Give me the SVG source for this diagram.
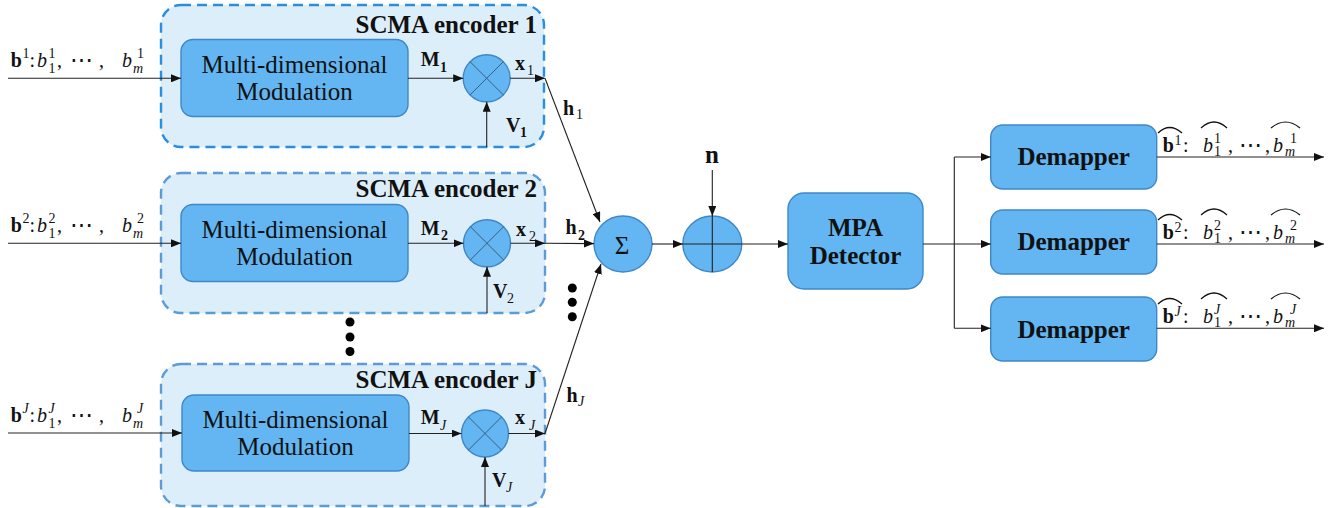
<svg xmlns="http://www.w3.org/2000/svg" width="1333" height="508" viewBox="0 0 1333 508">
  <defs>
    <marker id="ah" markerUnits="userSpaceOnUse" markerWidth="10" markerHeight="8" refX="10" refY="4" orient="auto" viewBox="0 0 10 8">
      <path d="M0,0 L10,4 L0,8 z" fill="#111"/>
    </marker>
    <style>
      .enc1 { fill:#ddeefb; stroke:#2a8ee0; stroke-width:2.4; stroke-dasharray:10 6; }
      .enc { fill:#ddeefb; stroke:#5d9bd6; stroke-width:2.4; stroke-dasharray:10 6; }
      .blk { fill:#63b6f1; stroke:#3f88c8; stroke-width:1.4; }
      .cross { stroke:#3b5f80; stroke-width:1; fill:none; }
      .ln { stroke:#222; stroke-width:1.1; fill:none; }
      .arr { marker-end:url(#ah); }
      .hat { stroke:#111; stroke-width:1.2; fill:none; }
      .title { font-family:'Liberation Serif','Times New Roman','DejaVu Serif',serif; font-weight:bold; font-size:25px; fill:#111; }
      .lbl { font-family:'Liberation Serif','Times New Roman','DejaVu Serif',serif; font-size:25px; fill:#111; }
      .m { font-family:'Liberation Serif','Times New Roman','DejaVu Serif',serif; font-size:20px; fill:#111; }
      .b { font-weight:bold; }
      .i { font-style:italic; }
      .s { font-size:14px; }
      .dots { font-family:'DejaVu Serif',serif; font-size:23px; }
    </style>
  </defs>

  <!-- encoder 1 -->
  <g id="encoder1">
    <rect class="enc1" x="161" y="5" width="383" height="142" rx="20"/>
    <text class="title" x="537" y="33" text-anchor="end">SCMA encoder 1</text>
    <rect class="blk" x="181" y="39.5" width="227" height="77" rx="12"/>
    <text class="lbl" x="294.5" y="73" text-anchor="middle">Multi-dimensional</text>
    <text class="lbl" x="294.5" y="100" text-anchor="middle">Modulation</text>
    <circle class="blk" cx="486.7" cy="78.3" r="23.5"/>
    <path class="cross" d="M470.1,61.7 L503.3,94.9 M470.1,94.9 L503.3,61.7"/>
    <text class="m b" x="420.7" y="66">M<tspan class="s" x="440" y="72">1</tspan></text>
    <text class="m b" x="515" y="70">x<tspan class="s" x="527" y="75" font-weight="normal">1</tspan></text>
    <text class="m b" x="506" y="132">V<tspan class="s" x="520" y="137">1</tspan></text>
  </g>

  <!-- encoder 2 -->
  <g id="encoder2">
    <rect class="enc" x="161" y="173" width="384" height="140" rx="20"/>
    <text class="title" x="537" y="197" text-anchor="end">SCMA encoder 2</text>
    <rect class="blk" x="181" y="204.5" width="227" height="77" rx="12"/>
    <text class="lbl" x="294.5" y="238" text-anchor="middle">Multi-dimensional</text>
    <text class="lbl" x="294.5" y="265" text-anchor="middle">Modulation</text>
    <circle class="blk" cx="487" cy="243.3" r="23.5"/>
    <path class="cross" d="M470.4,226.7 L503.6,259.9 M470.4,259.9 L503.6,226.7"/>
    <text class="m b" x="420.7" y="235">M<tspan class="s" x="441" y="240">2</tspan></text>
    <text class="m b" x="516" y="236">x<tspan class="s" x="529" y="241" font-weight="normal">2</tspan></text>
    <text class="m b" x="493" y="298">V<tspan class="s" x="507" y="303" font-weight="normal">2</tspan></text>
  </g>

  <!-- encoder J -->
  <g id="encoderJ">
    <rect class="enc" x="161" y="364" width="384" height="142" rx="20"/>
    <text class="title" x="537" y="388" text-anchor="end">SCMA encoder J</text>
    <rect class="blk" x="182" y="395" width="227" height="76" rx="12"/>
    <text class="lbl" x="295.5" y="428" text-anchor="middle">Multi-dimensional</text>
    <text class="lbl" x="295.5" y="455" text-anchor="middle">Modulation</text>
    <circle class="blk" cx="485" cy="433.5" r="23.5"/>
    <path class="cross" d="M468.4,416.9 L501.6,450.1 M468.4,450.1 L501.6,416.9"/>
    <text class="m b" x="420.7" y="424">M<tspan class="s i" x="440" y="430" font-weight="normal">J</tspan></text>
    <text class="m b" x="515" y="424">x<tspan class="s i" x="529" y="430" font-weight="normal">J</tspan></text>
    <text class="m b" x="492" y="487">V<tspan class="s i" x="506" y="492" font-weight="normal">J</tspan></text>
  </g>

  <!-- summation and noise adder -->
  <g id="sum">
    <ellipse class="blk" cx="623" cy="244" rx="29" ry="28"/>
    <text class="lbl" x="622" y="254" text-anchor="middle" font-size="26">Σ</text>
  </g>
  <g id="adder">
    <ellipse class="blk" cx="712.3" cy="244" rx="29.5" ry="28"/>
    <path class="ln" d="M682.8,244 L741.8,244 M712.3,216 L712.3,272"/>
    <text class="title" x="712" y="163" text-anchor="middle">n</text>
  </g>

  <!-- detector -->
  <g id="mpa">
    <rect class="blk" x="788" y="193" width="135" height="96" rx="16"/>
    <text class="title" x="855.5" y="236" text-anchor="middle">MPA</text>
    <text class="title" x="855.5" y="264" text-anchor="middle">Detector</text>
  </g>

  <!-- demappers -->
  <g id="demapper1">
    <rect class="blk" x="990.7" y="125" width="166" height="64" rx="12"/>
    <text class="title" x="1073.7" y="165" text-anchor="middle">Demapper</text>
  </g>
  <g id="demapper2">
    <rect class="blk" x="990.7" y="210" width="166" height="64" rx="12"/>
    <text class="title" x="1073.7" y="250" text-anchor="middle">Demapper</text>
  </g>
  <g id="demapperJ">
    <rect class="blk" x="990.7" y="297" width="166" height="64" rx="12"/>
    <text class="title" x="1073.7" y="338" text-anchor="middle">Demapper</text>
  </g>

  <!-- connectors -->
  <g id="connectors">
    <path class="ln arr" d="M8,78.3 L181,78.3"/>
    <path class="ln arr" d="M8,243.3 L181,243.3"/>
    <path class="ln arr" d="M8,433 L182,433"/>
    <path class="ln arr" d="M408,78.3 L463.2,78.3"/>
    <path class="ln arr" d="M408,243.3 L463.5,243.3"/>
    <path class="ln arr" d="M409,433.5 L461.5,433.5"/>
    <path class="ln arr" d="M486.7,147 L486.7,101.8"/>
    <path class="ln arr" d="M487,313 L487,266.8"/>
    <path class="ln arr" d="M485,506 L485,457"/>
    <path class="ln arr" d="M510.2,78.3 L545,78.3"/>
    <path class="ln arr" d="M510.5,243.3 L545,243.3"/>
    <path class="ln arr" d="M508.5,433.5 L545,433.5"/>
    <path class="ln arr" d="M545,78.3 L600,222"/>
    <path class="ln arr" d="M545,243.3 L594,243.6"/>
    <path class="ln arr" d="M545,433.5 L601,264"/>
    <path class="ln arr" d="M652,244 L682.8,244"/>
    <path class="ln arr" d="M741.8,244 L788,244"/>
    <path class="ln arr" d="M712.3,170 L712.3,216"/>
    <path class="ln" d="M923,244 L954.3,244 M954.3,157 L954.3,328.3"/>
    <path class="ln arr" d="M954.3,157 L990.7,157"/>
    <path class="ln arr" d="M954.3,244 L990.7,244"/>
    <path class="ln arr" d="M954.3,328.3 L990.7,328.3"/>
    <path class="ln arr" d="M1156.7,157 L1324,157"/>
    <path class="ln arr" d="M1156.7,244 L1324,244"/>
    <path class="ln arr" d="M1156.7,328.3 L1324,328.3"/>
  </g>

  <!-- channel labels and ellipsis dots -->
  <g id="channel-labels">
    <text class="m b" x="563" y="115">h<tspan class="s" x="576" y="119" font-weight="normal">1</tspan></text>
    <text class="m b" x="565.5" y="234">h<tspan class="s" x="578" y="240">2</tspan></text>
    <text class="m b" x="566.5" y="402">h<tspan class="s i" x="578" y="406" font-weight="normal">J</tspan></text>
  </g>
  <g id="ellipsis" fill="#000">
    <circle cx="350" cy="322" r="4.5"/>
    <circle cx="350" cy="337" r="4.5"/>
    <circle cx="350" cy="351.5" r="4.5"/>
    <circle cx="572.3" cy="288" r="4.5"/>
    <circle cx="572.3" cy="302.3" r="4.5"/>
    <circle cx="572.3" cy="316.7" r="4.5"/>
  </g>

  <!-- input bit streams -->
  <g id="inputs">
    <text class="m"><tspan class="b" x="10.7" y="67">b</tspan><tspan class="s" x="22.5" y="58">1</tspan><tspan x="29.5" y="67">:</tspan><tspan class="i" x="37" y="67">b</tspan><tspan class="s" x="48.5" y="58">1</tspan><tspan class="s" x="48.5" y="73">1</tspan><tspan x="57" y="67">,</tspan><tspan class="dots" x="70" y="67">⋯</tspan><tspan x="99" y="67">,</tspan><tspan class="i" x="122" y="67">b</tspan><tspan class="s" x="137" y="58">1</tspan><tspan class="s i" x="133" y="73">m</tspan></text>
    <text class="m"><tspan class="b" x="10.7" y="232">b</tspan><tspan class="s" x="22.5" y="223">2</tspan><tspan x="29.5" y="232">:</tspan><tspan class="i" x="37" y="232">b</tspan><tspan class="s" x="48.5" y="223">2</tspan><tspan class="s" x="48.5" y="238">1</tspan><tspan x="57" y="232">,</tspan><tspan class="dots" x="70" y="232">⋯</tspan><tspan x="99" y="232">,</tspan><tspan class="i" x="122" y="232">b</tspan><tspan class="s" x="137" y="223">2</tspan><tspan class="s i" x="133" y="238">m</tspan></text>
    <text class="m"><tspan class="b" x="10.7" y="422">b</tspan><tspan class="s i" x="22.5" y="413">J</tspan><tspan x="29.5" y="422">:</tspan><tspan class="i" x="37" y="422">b</tspan><tspan class="s i" x="48.5" y="413">J</tspan><tspan class="s" x="48.5" y="428">1</tspan><tspan x="57" y="422">,</tspan><tspan class="dots" x="70" y="422">⋯</tspan><tspan x="99" y="422">,</tspan><tspan class="i" x="122" y="422">b</tspan><tspan class="s i" x="137" y="413">J</tspan><tspan class="s i" x="133" y="428">m</tspan></text>
  </g>

  <!-- decoded bit streams -->
  <g id="outputs">
    <text class="m"><tspan class="b" x="1162.7" y="152">b</tspan><tspan class="s" x="1174.5" y="145">1</tspan><tspan x="1183" y="152">:</tspan><tspan class="i" x="1203" y="152">b</tspan><tspan class="s" x="1214" y="143">1</tspan><tspan class="s" x="1214" y="156">1</tspan><tspan x="1228" y="152">,</tspan><tspan class="dots" x="1239" y="152">⋯</tspan><tspan x="1265" y="152">,</tspan><tspan class="i" x="1273" y="152">b</tspan><tspan class="s" x="1290" y="143">1</tspan><tspan class="s i" x="1285" y="156">m</tspan></text>
    <path class="hat" d="M1158,133 Q1169.5,122 1182,133 M1201,128 Q1214,116 1227,128 M1271,128 Q1285.5,116 1300,128"/>
    <text class="m"><tspan class="b" x="1162.7" y="239">b</tspan><tspan class="s" x="1174.5" y="232">2</tspan><tspan x="1183" y="239">:</tspan><tspan class="i" x="1203" y="239">b</tspan><tspan class="s" x="1214" y="230">2</tspan><tspan class="s" x="1214" y="243">1</tspan><tspan x="1228" y="239">,</tspan><tspan class="dots" x="1239" y="239">⋯</tspan><tspan x="1265" y="239">,</tspan><tspan class="i" x="1273" y="239">b</tspan><tspan class="s" x="1290" y="230">2</tspan><tspan class="s i" x="1285" y="243">m</tspan></text>
    <path class="hat" d="M1158,220 Q1169.5,209 1182,220 M1201,215 Q1214,203 1227,215 M1271,215 Q1285.5,203 1300,215"/>
    <text class="m"><tspan class="b" x="1162.7" y="323.3">b</tspan><tspan class="s i" x="1174.5" y="316.3">J</tspan><tspan x="1183" y="323.3">:</tspan><tspan class="i" x="1203" y="323.3">b</tspan><tspan class="s i" x="1214" y="314.3">J</tspan><tspan class="s" x="1214" y="327.3">1</tspan><tspan x="1228" y="323.3">,</tspan><tspan class="dots" x="1239" y="323.3">⋯</tspan><tspan x="1265" y="323.3">,</tspan><tspan class="i" x="1273" y="323.3">b</tspan><tspan class="s i" x="1290" y="314.3">J</tspan><tspan class="s i" x="1285" y="327.3">m</tspan></text>
    <path class="hat" d="M1158,304 Q1169.5,293 1182,304 M1201,299 Q1214,287 1227,299 M1271,299 Q1285.5,287 1300,299"/>
  </g>
</svg>
